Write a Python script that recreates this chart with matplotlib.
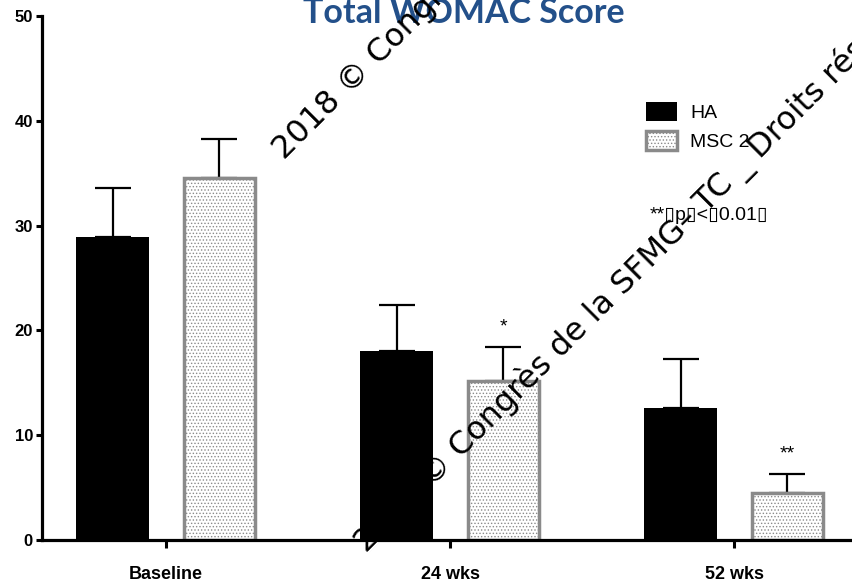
import numpy as np
import matplotlib
matplotlib.use('Agg')
import matplotlib.pyplot as plt

plt.rcParams['hatch.linewidth'] = 0.6

groups = ['Baseline', '24 wks', '52 wks']
ha_mean = [28.9, 18.0, 12.6]
ha_sem = [4.7, 4.4, 4.7]
msc_mean = [34.5, 15.2, 4.5]
msc_sem = [3.8, 3.2, 1.8]
msc_stars = ['', '*', '**']

W, H = 853, 586
fig = plt.figure(figsize=(W / 100, H / 100), dpi=100)
ax = fig.add_axes([42 / W, 46 / H, 1 - 42 / W, (540 - 16) / H])

ind = np.arange(len(groups))
off = 0.188
width = 0.258

ax.bar(ind - off, ha_mean, width, color='black', label='HA', zorder=2)
ax.bar(ind + off, msc_mean, width - 0.01, color='white', edgecolor='#8a8a8a',
       linewidth=2.5, hatch='.....', label='MSC 2', zorder=2)

ax.errorbar(ind - off, ha_mean, yerr=[np.zeros(3), ha_sem], fmt='none',
            ecolor='black', elinewidth=1.6, capsize=13, capthick=1.6, zorder=1)
ax.errorbar(ind + off, msc_mean, yerr=[np.zeros(3), msc_sem], fmt='none',
            ecolor='black', elinewidth=1.6, capsize=13, capthick=1.6, zorder=1)

for i, s in enumerate(msc_stars):
    if s:
        ax.text(i + off, msc_mean[i] + msc_sem[i] + 1.9, s, ha='center', va='center',
                fontsize=14, family='Liberation Sans')

ax.set_xlim(-0.437, 2.419)
ax.set_ylim(0, 50)
ax.set_yticks([0, 10, 20, 30, 40, 50])
ax.set_xticks(ind)
ax.set_xticklabels(groups)

for sp in ['top', 'right']:
    ax.spines[sp].set_visible(False)
for sp in ['left', 'bottom']:
    ax.spines[sp].set_linewidth(2.3)

ax.tick_params(axis='y', length=4.5, width=2.2, pad=2, labelsize=12)
ax.tick_params(axis='x', length=6, width=2.2, pad=13, labelsize=13)
for lab in ax.get_xticklabels() + ax.get_yticklabels():
    lab.set_family('Liberation Sans')
    lab.set_fontweight('bold')

ax.legend(loc='upper left', bbox_to_anchor=(636 / W, 1 - 92 / H),
          bbox_transform=fig.transFigure, frameon=False, borderpad=0,
          handlelength=1.6, handleheight=1.15, handletextpad=0.7,
          labelspacing=0.45, prop={'family': 'Liberation Sans', 'size': 14})

fig.text(650 / W, 1 - 216 / H, '**\u25afp\u25af<\u25af0.01\u25af', ha='left', va='center',
         fontsize=14, family=['Liberation Sans', 'DejaVu Sans'])

# title sits partly above the top edge
fig.text(464 / W, 1 - 23 / H, 'Total WOMAC Score', ha='center', va='baseline',
         fontsize=24.5, fontweight='bold', family='Lato', color='#23508a', zorder=2)

# diagonal copyright watermark
mark = '2018 \u00a9 Congr\u00e8s de la SFMG\u2013 TC _ Droits r\u00e9serv\u00e9s'
for px, py in [(284, 160), (366, 553)]:
    fig.text(px / W, 1 - py / H, mark, rotation=45, rotation_mode='anchor',
             ha='left', va='baseline', fontsize=23, color='black', zorder=10)

fig.savefig('out.png', dpi=100)
